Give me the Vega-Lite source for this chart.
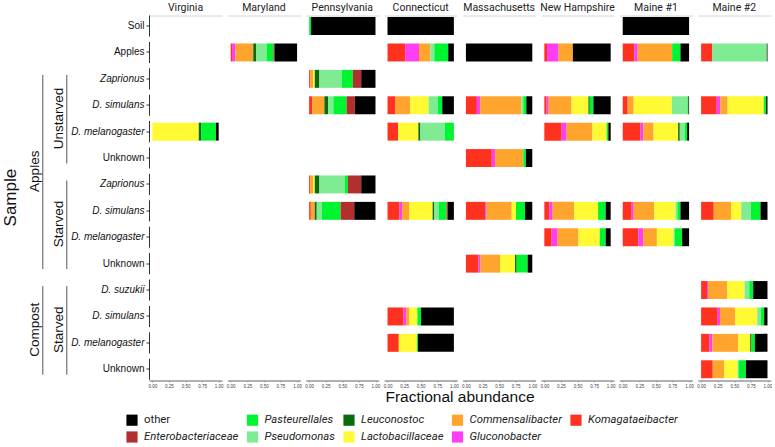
{
  "$schema": "https://vega.github.io/schema/vega-lite/v6.json",
  "padding": {"left": 0, "right": 0, "top": 2.5, "bottom": 0},
  "config": {
    "view": {"stroke": null},
    "font": "Liberation Sans",
    "header": {"labelFont": "Roboto", "labelFontSize": 10.5, "labelColor": "#222", "labelPadding": 2}
  },
  "datasets": {
    "groups": [
      {"label": "Sample", "level": 0, "start": 0, "end": 14, "panel": "\u00a0"},
      {"label": "Apples", "level": 1, "start": 2, "end": 10, "panel": "\u00a0"},
      {"label": "Compost", "level": 1, "start": 10, "end": 14, "panel": "\u00a0"},
      {"label": "Unstarved", "level": 2, "start": 2, "end": 6, "panel": "\u00a0"},
      {"label": "Starved", "level": 2, "start": 6, "end": 10, "panel": "\u00a0"},
      {"label": "Starved", "level": 2, "start": 10, "end": 14, "panel": "\u00a0"}
    ],
    "bars": [
      {"location": "Virginia", "sample": "Soil"},
      {"location": "Virginia", "sample": "Apples"},
      {"location": "Virginia", "sample": "U: Zaprionus"},
      {"location": "Virginia", "sample": "U: D. simulans"},
      {"location": "Virginia", "sample": "U: D. melanogaster"},
      {"location": "Virginia", "sample": "U: Unknown"},
      {"location": "Virginia", "sample": "S: Zaprionus"},
      {"location": "Virginia", "sample": "S: D. simulans"},
      {"location": "Virginia", "sample": "S: D. melanogaster"},
      {"location": "Virginia", "sample": "S: Unknown"},
      {"location": "Virginia", "sample": "C: D. suzukii"},
      {"location": "Virginia", "sample": "C: D. simulans"},
      {"location": "Virginia", "sample": "C: D. melanogaster"},
      {"location": "Virginia", "sample": "C: Unknown"},

      {"location": "Pennsylvania", "sample": "Soil", "taxon": "Pasteurellales", "value": 0.03},
      {"location": "Pennsylvania", "sample": "Soil", "taxon": "other", "value": 0.97},
      {"location": "Connecticut", "sample": "Soil", "taxon": "other", "value": 1.0},
      {"location": "Maine #1", "sample": "Soil", "taxon": "other", "value": 1.0},

      {"location": "Maryland", "sample": "Apples", "taxon": "Komagataeibacter", "value": 0.02},
      {"location": "Maryland", "sample": "Apples", "taxon": "Gluconobacter", "value": 0.05},
      {"location": "Maryland", "sample": "Apples", "taxon": "Commensalibacter", "value": 0.27},
      {"location": "Maryland", "sample": "Apples", "taxon": "Leuconostoc", "value": 0.045},
      {"location": "Maryland", "sample": "Apples", "taxon": "Pseudomonas", "value": 0.155},
      {"location": "Maryland", "sample": "Apples", "taxon": "Pasteurellales", "value": 0.105},
      {"location": "Maryland", "sample": "Apples", "taxon": "Enterobacteriaceae", "value": 0.015},
      {"location": "Maryland", "sample": "Apples", "taxon": "other", "value": 0.34},
      {"location": "Connecticut", "sample": "Apples", "taxon": "Komagataeibacter", "value": 0.27},
      {"location": "Connecticut", "sample": "Apples", "taxon": "Gluconobacter", "value": 0.205},
      {"location": "Connecticut", "sample": "Apples", "taxon": "Commensalibacter", "value": 0.17},
      {"location": "Connecticut", "sample": "Apples", "taxon": "Pseudomonas", "value": 0.06},
      {"location": "Connecticut", "sample": "Apples", "taxon": "Pasteurellales", "value": 0.21},
      {"location": "Connecticut", "sample": "Apples", "taxon": "other", "value": 0.085},
      {"location": "Massachusetts", "sample": "Apples", "taxon": "other", "value": 1.0},
      {"location": "New Hampshire", "sample": "Apples", "taxon": "Komagataeibacter", "value": 0.04},
      {"location": "New Hampshire", "sample": "Apples", "taxon": "Gluconobacter", "value": 0.175},
      {"location": "New Hampshire", "sample": "Apples", "taxon": "Commensalibacter", "value": 0.215},
      {"location": "New Hampshire", "sample": "Apples", "taxon": "other", "value": 0.57},
      {"location": "Maine #1", "sample": "Apples", "taxon": "Komagataeibacter", "value": 0.175},
      {"location": "Maine #1", "sample": "Apples", "taxon": "Gluconobacter", "value": 0.05},
      {"location": "Maine #1", "sample": "Apples", "taxon": "Commensalibacter", "value": 0.52},
      {"location": "Maine #1", "sample": "Apples", "taxon": "Pasteurellales", "value": 0.125},
      {"location": "Maine #1", "sample": "Apples", "taxon": "other", "value": 0.13},
      {"location": "Maine #2", "sample": "Apples", "taxon": "Komagataeibacter", "value": 0.17},
      {"location": "Maine #2", "sample": "Apples", "taxon": "Pseudomonas", "value": 0.82},
      {"location": "Maine #2", "sample": "Apples", "taxon": "other", "value": 0.01},

      {"location": "Pennsylvania", "sample": "U: Zaprionus", "taxon": "Komagataeibacter", "value": 0.02},
      {"location": "Pennsylvania", "sample": "U: Zaprionus", "taxon": "Commensalibacter", "value": 0.04},
      {"location": "Pennsylvania", "sample": "U: Zaprionus", "taxon": "Lactobacillaceae", "value": 0.025},
      {"location": "Pennsylvania", "sample": "U: Zaprionus", "taxon": "Leuconostoc", "value": 0.07},
      {"location": "Pennsylvania", "sample": "U: Zaprionus", "taxon": "Pseudomonas", "value": 0.335},
      {"location": "Pennsylvania", "sample": "U: Zaprionus", "taxon": "Pasteurellales", "value": 0.17},
      {"location": "Pennsylvania", "sample": "U: Zaprionus", "taxon": "Enterobacteriaceae", "value": 0.125},
      {"location": "Pennsylvania", "sample": "U: Zaprionus", "taxon": "other", "value": 0.215},

      {"location": "Pennsylvania", "sample": "U: D. simulans", "taxon": "Komagataeibacter", "value": 0.05},
      {"location": "Pennsylvania", "sample": "U: D. simulans", "taxon": "Commensalibacter", "value": 0.18},
      {"location": "Pennsylvania", "sample": "U: D. simulans", "taxon": "Leuconostoc", "value": 0.055},
      {"location": "Pennsylvania", "sample": "U: D. simulans", "taxon": "Pseudomonas", "value": 0.08},
      {"location": "Pennsylvania", "sample": "U: D. simulans", "taxon": "Pasteurellales", "value": 0.2},
      {"location": "Pennsylvania", "sample": "U: D. simulans", "taxon": "Enterobacteriaceae", "value": 0.125},
      {"location": "Pennsylvania", "sample": "U: D. simulans", "taxon": "other", "value": 0.31},
      {"location": "Connecticut", "sample": "U: D. simulans", "taxon": "Komagataeibacter", "value": 0.12},
      {"location": "Connecticut", "sample": "U: D. simulans", "taxon": "Commensalibacter", "value": 0.225},
      {"location": "Connecticut", "sample": "U: D. simulans", "taxon": "Lactobacillaceae", "value": 0.275},
      {"location": "Connecticut", "sample": "U: D. simulans", "taxon": "Pseudomonas", "value": 0.135},
      {"location": "Connecticut", "sample": "U: D. simulans", "taxon": "Pasteurellales", "value": 0.07},
      {"location": "Connecticut", "sample": "U: D. simulans", "taxon": "other", "value": 0.175},
      {"location": "Massachusetts", "sample": "U: D. simulans", "taxon": "Komagataeibacter", "value": 0.165},
      {"location": "Massachusetts", "sample": "U: D. simulans", "taxon": "Gluconobacter", "value": 0.05},
      {"location": "Massachusetts", "sample": "U: D. simulans", "taxon": "Commensalibacter", "value": 0.62},
      {"location": "Massachusetts", "sample": "U: D. simulans", "taxon": "Pseudomonas", "value": 0.03},
      {"location": "Massachusetts", "sample": "U: D. simulans", "taxon": "Pasteurellales", "value": 0.045},
      {"location": "Massachusetts", "sample": "U: D. simulans", "taxon": "other", "value": 0.09},
      {"location": "New Hampshire", "sample": "U: D. simulans", "taxon": "Komagataeibacter", "value": 0.035},
      {"location": "New Hampshire", "sample": "U: D. simulans", "taxon": "Gluconobacter", "value": 0.03},
      {"location": "New Hampshire", "sample": "U: D. simulans", "taxon": "Commensalibacter", "value": 0.345},
      {"location": "New Hampshire", "sample": "U: D. simulans", "taxon": "Lactobacillaceae", "value": 0.255},
      {"location": "New Hampshire", "sample": "U: D. simulans", "taxon": "Leuconostoc", "value": 0.02},
      {"location": "New Hampshire", "sample": "U: D. simulans", "taxon": "Pasteurellales", "value": 0.055},
      {"location": "New Hampshire", "sample": "U: D. simulans", "taxon": "other", "value": 0.26},
      {"location": "Maine #1", "sample": "U: D. simulans", "taxon": "Komagataeibacter", "value": 0.075},
      {"location": "Maine #1", "sample": "U: D. simulans", "taxon": "Commensalibacter", "value": 0.09},
      {"location": "Maine #1", "sample": "U: D. simulans", "taxon": "Lactobacillaceae", "value": 0.575},
      {"location": "Maine #1", "sample": "U: D. simulans", "taxon": "Pseudomonas", "value": 0.235},
      {"location": "Maine #1", "sample": "U: D. simulans", "taxon": "Pasteurellales", "value": 0.015},
      {"location": "Maine #1", "sample": "U: D. simulans", "taxon": "other", "value": 0.01},
      {"location": "Maine #2", "sample": "U: D. simulans", "taxon": "Komagataeibacter", "value": 0.235},
      {"location": "Maine #2", "sample": "U: D. simulans", "taxon": "Gluconobacter", "value": 0.055},
      {"location": "Maine #2", "sample": "U: D. simulans", "taxon": "Commensalibacter", "value": 0.11},
      {"location": "Maine #2", "sample": "U: D. simulans", "taxon": "Lactobacillaceae", "value": 0.545},
      {"location": "Maine #2", "sample": "U: D. simulans", "taxon": "Pasteurellales", "value": 0.035},
      {"location": "Maine #2", "sample": "U: D. simulans", "taxon": "other", "value": 0.02},

      {"location": "Virginia", "sample": "U: D. melanogaster", "taxon": "Lactobacillaceae", "value": 0.7},
      {"location": "Virginia", "sample": "U: D. melanogaster", "taxon": "Leuconostoc", "value": 0.035},
      {"location": "Virginia", "sample": "U: D. melanogaster", "taxon": "Pasteurellales", "value": 0.225},
      {"location": "Virginia", "sample": "U: D. melanogaster", "taxon": "other", "value": 0.04},
      {"location": "Connecticut", "sample": "U: D. melanogaster", "taxon": "Komagataeibacter", "value": 0.16},
      {"location": "Connecticut", "sample": "U: D. melanogaster", "taxon": "Lactobacillaceae", "value": 0.305},
      {"location": "Connecticut", "sample": "U: D. melanogaster", "taxon": "Leuconostoc", "value": 0.03},
      {"location": "Connecticut", "sample": "U: D. melanogaster", "taxon": "Pseudomonas", "value": 0.37},
      {"location": "Connecticut", "sample": "U: D. melanogaster", "taxon": "Pasteurellales", "value": 0.135},
      {"location": "New Hampshire", "sample": "U: D. melanogaster", "taxon": "Komagataeibacter", "value": 0.26},
      {"location": "New Hampshire", "sample": "U: D. melanogaster", "taxon": "Gluconobacter", "value": 0.075},
      {"location": "New Hampshire", "sample": "U: D. melanogaster", "taxon": "Commensalibacter", "value": 0.39},
      {"location": "New Hampshire", "sample": "U: D. melanogaster", "taxon": "Lactobacillaceae", "value": 0.215},
      {"location": "New Hampshire", "sample": "U: D. melanogaster", "taxon": "Pasteurellales", "value": 0.025},
      {"location": "New Hampshire", "sample": "U: D. melanogaster", "taxon": "other", "value": 0.035},
      {"location": "Maine #1", "sample": "U: D. melanogaster", "taxon": "Komagataeibacter", "value": 0.265},
      {"location": "Maine #1", "sample": "U: D. melanogaster", "taxon": "Gluconobacter", "value": 0.045},
      {"location": "Maine #1", "sample": "U: D. melanogaster", "taxon": "Commensalibacter", "value": 0.155},
      {"location": "Maine #1", "sample": "U: D. melanogaster", "taxon": "Lactobacillaceae", "value": 0.37},
      {"location": "Maine #1", "sample": "U: D. melanogaster", "taxon": "Leuconostoc", "value": 0.025},
      {"location": "Maine #1", "sample": "U: D. melanogaster", "taxon": "Pseudomonas", "value": 0.075},
      {"location": "Maine #1", "sample": "U: D. melanogaster", "taxon": "Pasteurellales", "value": 0.035},
      {"location": "Maine #1", "sample": "U: D. melanogaster", "taxon": "other", "value": 0.03},

      {"location": "Massachusetts", "sample": "U: Unknown", "taxon": "Komagataeibacter", "value": 0.39},
      {"location": "Massachusetts", "sample": "U: Unknown", "taxon": "Gluconobacter", "value": 0.05},
      {"location": "Massachusetts", "sample": "U: Unknown", "taxon": "Commensalibacter", "value": 0.425},
      {"location": "Massachusetts", "sample": "U: Unknown", "taxon": "Pasteurellales", "value": 0.04},
      {"location": "Massachusetts", "sample": "U: Unknown", "taxon": "other", "value": 0.095},

      {"location": "Pennsylvania", "sample": "S: Zaprionus", "taxon": "Komagataeibacter", "value": 0.02},
      {"location": "Pennsylvania", "sample": "S: Zaprionus", "taxon": "Commensalibacter", "value": 0.04},
      {"location": "Pennsylvania", "sample": "S: Zaprionus", "taxon": "Lactobacillaceae", "value": 0.025},
      {"location": "Pennsylvania", "sample": "S: Zaprionus", "taxon": "Leuconostoc", "value": 0.07},
      {"location": "Pennsylvania", "sample": "S: Zaprionus", "taxon": "Pseudomonas", "value": 0.385},
      {"location": "Pennsylvania", "sample": "S: Zaprionus", "taxon": "Pasteurellales", "value": 0.045},
      {"location": "Pennsylvania", "sample": "S: Zaprionus", "taxon": "Enterobacteriaceae", "value": 0.2},
      {"location": "Pennsylvania", "sample": "S: Zaprionus", "taxon": "other", "value": 0.215},

      {"location": "Pennsylvania", "sample": "S: D. simulans", "taxon": "Komagataeibacter", "value": 0.025},
      {"location": "Pennsylvania", "sample": "S: D. simulans", "taxon": "Commensalibacter", "value": 0.06},
      {"location": "Pennsylvania", "sample": "S: D. simulans", "taxon": "Leuconostoc", "value": 0.03},
      {"location": "Pennsylvania", "sample": "S: D. simulans", "taxon": "Pseudomonas", "value": 0.075},
      {"location": "Pennsylvania", "sample": "S: D. simulans", "taxon": "Pasteurellales", "value": 0.285},
      {"location": "Pennsylvania", "sample": "S: D. simulans", "taxon": "Enterobacteriaceae", "value": 0.205},
      {"location": "Pennsylvania", "sample": "S: D. simulans", "taxon": "other", "value": 0.32},
      {"location": "Connecticut", "sample": "S: D. simulans", "taxon": "Komagataeibacter", "value": 0.18},
      {"location": "Connecticut", "sample": "S: D. simulans", "taxon": "Gluconobacter", "value": 0.04},
      {"location": "Connecticut", "sample": "S: D. simulans", "taxon": "Commensalibacter", "value": 0.11},
      {"location": "Connecticut", "sample": "S: D. simulans", "taxon": "Lactobacillaceae", "value": 0.35},
      {"location": "Connecticut", "sample": "S: D. simulans", "taxon": "Leuconostoc", "value": 0.025},
      {"location": "Connecticut", "sample": "S: D. simulans", "taxon": "Pseudomonas", "value": 0.065},
      {"location": "Connecticut", "sample": "S: D. simulans", "taxon": "Pasteurellales", "value": 0.12},
      {"location": "Connecticut", "sample": "S: D. simulans", "taxon": "Enterobacteriaceae", "value": 0.02},
      {"location": "Connecticut", "sample": "S: D. simulans", "taxon": "other", "value": 0.09},
      {"location": "Massachusetts", "sample": "S: D. simulans", "taxon": "Komagataeibacter", "value": 0.29},
      {"location": "Massachusetts", "sample": "S: D. simulans", "taxon": "Gluconobacter", "value": 0.02},
      {"location": "Massachusetts", "sample": "S: D. simulans", "taxon": "Commensalibacter", "value": 0.38},
      {"location": "Massachusetts", "sample": "S: D. simulans", "taxon": "Lactobacillaceae", "value": 0.065},
      {"location": "Massachusetts", "sample": "S: D. simulans", "taxon": "Pasteurellales", "value": 0.135},
      {"location": "Massachusetts", "sample": "S: D. simulans", "taxon": "other", "value": 0.11},
      {"location": "New Hampshire", "sample": "S: D. simulans", "taxon": "Komagataeibacter", "value": 0.075},
      {"location": "New Hampshire", "sample": "S: D. simulans", "taxon": "Gluconobacter", "value": 0.05},
      {"location": "New Hampshire", "sample": "S: D. simulans", "taxon": "Commensalibacter", "value": 0.325},
      {"location": "New Hampshire", "sample": "S: D. simulans", "taxon": "Lactobacillaceae", "value": 0.36},
      {"location": "New Hampshire", "sample": "S: D. simulans", "taxon": "Pasteurellales", "value": 0.115},
      {"location": "New Hampshire", "sample": "S: D. simulans", "taxon": "other", "value": 0.075},
      {"location": "Maine #1", "sample": "S: D. simulans", "taxon": "Komagataeibacter", "value": 0.135},
      {"location": "Maine #1", "sample": "S: D. simulans", "taxon": "Gluconobacter", "value": 0.03},
      {"location": "Maine #1", "sample": "S: D. simulans", "taxon": "Commensalibacter", "value": 0.31},
      {"location": "Maine #1", "sample": "S: D. simulans", "taxon": "Lactobacillaceae", "value": 0.32},
      {"location": "Maine #1", "sample": "S: D. simulans", "taxon": "Pseudomonas", "value": 0.03},
      {"location": "Maine #1", "sample": "S: D. simulans", "taxon": "Pasteurellales", "value": 0.045},
      {"location": "Maine #1", "sample": "S: D. simulans", "taxon": "other", "value": 0.13},
      {"location": "Maine #2", "sample": "S: D. simulans", "taxon": "Komagataeibacter", "value": 0.19},
      {"location": "Maine #2", "sample": "S: D. simulans", "taxon": "Commensalibacter", "value": 0.26},
      {"location": "Maine #2", "sample": "S: D. simulans", "taxon": "Lactobacillaceae", "value": 0.155},
      {"location": "Maine #2", "sample": "S: D. simulans", "taxon": "Pseudomonas", "value": 0.145},
      {"location": "Maine #2", "sample": "S: D. simulans", "taxon": "Pasteurellales", "value": 0.145},
      {"location": "Maine #2", "sample": "S: D. simulans", "taxon": "other", "value": 0.105},

      {"location": "New Hampshire", "sample": "S: D. melanogaster", "taxon": "Komagataeibacter", "value": 0.11},
      {"location": "New Hampshire", "sample": "S: D. melanogaster", "taxon": "Gluconobacter", "value": 0.09},
      {"location": "New Hampshire", "sample": "S: D. melanogaster", "taxon": "Commensalibacter", "value": 0.315},
      {"location": "New Hampshire", "sample": "S: D. melanogaster", "taxon": "Lactobacillaceae", "value": 0.32},
      {"location": "New Hampshire", "sample": "S: D. melanogaster", "taxon": "Pasteurellales", "value": 0.09},
      {"location": "New Hampshire", "sample": "S: D. melanogaster", "taxon": "other", "value": 0.075},
      {"location": "Maine #1", "sample": "S: D. melanogaster", "taxon": "Komagataeibacter", "value": 0.235},
      {"location": "Maine #1", "sample": "S: D. melanogaster", "taxon": "Gluconobacter", "value": 0.075},
      {"location": "Maine #1", "sample": "S: D. melanogaster", "taxon": "Commensalibacter", "value": 0.205},
      {"location": "Maine #1", "sample": "S: D. melanogaster", "taxon": "Lactobacillaceae", "value": 0.25},
      {"location": "Maine #1", "sample": "S: D. melanogaster", "taxon": "Pseudomonas", "value": 0.02},
      {"location": "Maine #1", "sample": "S: D. melanogaster", "taxon": "Pasteurellales", "value": 0.11},
      {"location": "Maine #1", "sample": "S: D. melanogaster", "taxon": "other", "value": 0.105},

      {"location": "Massachusetts", "sample": "S: Unknown", "taxon": "Komagataeibacter", "value": 0.19},
      {"location": "Massachusetts", "sample": "S: Unknown", "taxon": "Gluconobacter", "value": 0.03},
      {"location": "Massachusetts", "sample": "S: Unknown", "taxon": "Commensalibacter", "value": 0.295},
      {"location": "Massachusetts", "sample": "S: Unknown", "taxon": "Lactobacillaceae", "value": 0.225},
      {"location": "Massachusetts", "sample": "S: Unknown", "taxon": "Leuconostoc", "value": 0.025},
      {"location": "Massachusetts", "sample": "S: Unknown", "taxon": "Pasteurellales", "value": 0.165},
      {"location": "Massachusetts", "sample": "S: Unknown", "taxon": "other", "value": 0.07},

      {"location": "Maine #2", "sample": "C: D. suzukii", "taxon": "Komagataeibacter", "value": 0.09},
      {"location": "Maine #2", "sample": "C: D. suzukii", "taxon": "Gluconobacter", "value": 0.015},
      {"location": "Maine #2", "sample": "C: D. suzukii", "taxon": "Commensalibacter", "value": 0.29},
      {"location": "Maine #2", "sample": "C: D. suzukii", "taxon": "Lactobacillaceae", "value": 0.26},
      {"location": "Maine #2", "sample": "C: D. suzukii", "taxon": "Pseudomonas", "value": 0.07},
      {"location": "Maine #2", "sample": "C: D. suzukii", "taxon": "Pasteurellales", "value": 0.06},
      {"location": "Maine #2", "sample": "C: D. suzukii", "taxon": "other", "value": 0.215},

      {"location": "Connecticut", "sample": "C: D. simulans", "taxon": "Komagataeibacter", "value": 0.24},
      {"location": "Connecticut", "sample": "C: D. simulans", "taxon": "Gluconobacter", "value": 0.04},
      {"location": "Connecticut", "sample": "C: D. simulans", "taxon": "Commensalibacter", "value": 0.05},
      {"location": "Connecticut", "sample": "C: D. simulans", "taxon": "Lactobacillaceae", "value": 0.12},
      {"location": "Connecticut", "sample": "C: D. simulans", "taxon": "Pasteurellales", "value": 0.055},
      {"location": "Connecticut", "sample": "C: D. simulans", "taxon": "other", "value": 0.495},
      {"location": "Maine #2", "sample": "C: D. simulans", "taxon": "Komagataeibacter", "value": 0.25},
      {"location": "Maine #2", "sample": "C: D. simulans", "taxon": "Gluconobacter", "value": 0.035},
      {"location": "Maine #2", "sample": "C: D. simulans", "taxon": "Commensalibacter", "value": 0.23},
      {"location": "Maine #2", "sample": "C: D. simulans", "taxon": "Lactobacillaceae", "value": 0.33},
      {"location": "Maine #2", "sample": "C: D. simulans", "taxon": "Pseudomonas", "value": 0.055},
      {"location": "Maine #2", "sample": "C: D. simulans", "taxon": "Pasteurellales", "value": 0.05},
      {"location": "Maine #2", "sample": "C: D. simulans", "taxon": "other", "value": 0.05},

      {"location": "Connecticut", "sample": "C: D. melanogaster", "taxon": "Komagataeibacter", "value": 0.17},
      {"location": "Connecticut", "sample": "C: D. melanogaster", "taxon": "Lactobacillaceae", "value": 0.275},
      {"location": "Connecticut", "sample": "C: D. melanogaster", "taxon": "Pasteurellales", "value": 0.015},
      {"location": "Connecticut", "sample": "C: D. melanogaster", "taxon": "other", "value": 0.54},
      {"location": "Maine #2", "sample": "C: D. melanogaster", "taxon": "Komagataeibacter", "value": 0.125},
      {"location": "Maine #2", "sample": "C: D. melanogaster", "taxon": "Gluconobacter", "value": 0.045},
      {"location": "Maine #2", "sample": "C: D. melanogaster", "taxon": "Commensalibacter", "value": 0.39},
      {"location": "Maine #2", "sample": "C: D. melanogaster", "taxon": "Lactobacillaceae", "value": 0.18},
      {"location": "Maine #2", "sample": "C: D. melanogaster", "taxon": "Leuconostoc", "value": 0.02},
      {"location": "Maine #2", "sample": "C: D. melanogaster", "taxon": "Pasteurellales", "value": 0.05},
      {"location": "Maine #2", "sample": "C: D. melanogaster", "taxon": "other", "value": 0.19},

      {"location": "Maine #2", "sample": "C: Unknown", "taxon": "Komagataeibacter", "value": 0.175},
      {"location": "Maine #2", "sample": "C: Unknown", "taxon": "Commensalibacter", "value": 0.175},
      {"location": "Maine #2", "sample": "C: Unknown", "taxon": "Lactobacillaceae", "value": 0.2},
      {"location": "Maine #2", "sample": "C: Unknown", "taxon": "Pseudomonas", "value": 0.015},
      {"location": "Maine #2", "sample": "C: Unknown", "taxon": "Pasteurellales", "value": 0.11},
      {"location": "Maine #2", "sample": "C: Unknown", "taxon": "other", "value": 0.325}
    ]
  },
  "spacing": 0,
  "resolve": {"scale": {"x": "independent", "y": "independent"}},
  "hconcat": [
    {
      "data": {"name": "groups"},
      "transform": [{"calculate": "(datum.start + datum.end) / 2 - 0.1", "as": "mid"}],
      "facet": {"column": {"field": "panel", "title": null, "header": {"labelOrient": "top"}}},
      "spec": {
        "width": 70,
        "height": 364.3,
        "layer": [
          {
            "transform": [{"filter": "datum.level > 0"}],
            "mark": {"type": "rule", "color": "#555", "strokeWidth": 1, "xOffset": 8, "yOffset": 6.6, "y2Offset": -10.4},
            "encoding": {
              "x": {"field": "level", "type": "quantitative", "scale": {"domain": [-0.45, 2.4667], "nice": false, "zero": false}, "axis": null},
              "y": {"field": "start", "type": "quantitative", "scale": {"domain": [0, 13.8], "reverse": true, "nice": false, "zero": false}, "axis": null},
              "y2": {"field": "end"}
            }
          },
          {
            "transform": [{"filter": "datum.level > 0"}],
            "mark": {"type": "text", "angle": 270, "fontSize": 13.5, "font": "Liberation Sans", "color": "#111", "align": "center", "baseline": "middle"},
            "encoding": {
              "x": {"field": "level", "type": "quantitative"},
              "y": {"field": "mid", "type": "quantitative"},
              "text": {"field": "label"}
            }
          },
          {
            "transform": [{"filter": "datum.level == 0"}],
            "mark": {"type": "text", "angle": 270, "fontSize": 17, "font": "Liberation Sans", "color": "#111", "align": "center", "baseline": "middle"},
            "encoding": {
              "x": {"field": "level", "type": "quantitative"},
              "y": {"field": "mid", "type": "quantitative"},
              "text": {"field": "label"}
            }
          }
        ]
      }
    },
    {
      "data": {"name": "bars"},
      "transform": [{"calculate": "indexof(['Komagataeibacter','Gluconobacter','Commensalibacter','Lactobacillaceae','Leuconostoc','Pseudomonas','Pasteurellales','Enterobacteriaceae','other'], datum.taxon)", "as": "rank"}],
      "facet": {
        "column": {
          "field": "location",
          "type": "nominal",
          "sort": ["Virginia", "Maryland", "Pennsylvania", "Connecticut", "Massachusetts", "New Hampshire", "Maine #1", "Maine #2"],
          "title": "Fractional abundance",
          "header": {"labelOrient": "top", "titleOrient": "bottom", "titleFont": "Liberation Sans", "titleFontSize": 15.5, "titleFontWeight": "normal", "titleColor": "#111", "titlePadding": -8}
        }
      },
      "spacing": 5.4,
      "spec": {
        "width": 73,
        "height": 364.3,
        "resolve": {"axis": {"x": "independent"}},
        "layer": [
          {
            "transform": [{"filter": "isValid(datum.taxon)"}],
            "mark": {"type": "bar", "height": {"band": 0.85}},
            "encoding": {
              "y": {
                "field": "sample", "type": "nominal",
                "scale": {"domain": ["Soil", "Apples", "U: Zaprionus", "U: D. simulans", "U: D. melanogaster", "U: Unknown", "S: Zaprionus", "S: D. simulans", "S: D. melanogaster", "S: Unknown", "C: D. suzukii", "C: D. simulans", "C: D. melanogaster", "C: Unknown"], "paddingInner": 0.2, "paddingOuter": 0},
                "axis": {
                  "title": null, "domain": false, "ticks": true, "tickSize": 3, "tickColor": "#333",
                  "labelFontSize": 10, "labelColor": "#111", "labelPadding": 2, "labelFont": "Liberation Sans",
                  "labelExpr": "indexof(datum.value, ': ') > 0 ? slice(datum.value, 3) : datum.value",
                  "labelFontStyle": {"condition": {"test": "indexof(datum.value, 'D.') >= 0 || indexof(datum.value, 'Zaprionus') >= 0", "value": "italic"}, "value": "normal"}
                }
              },
              "x": {
                "field": "value", "type": "quantitative", "stack": "zero",
                "scale": {"domain": [-0.05, 1.05], "nice": false, "zero": false},
                "axis": {"title": null, "orient": "bottom", "values": [0, 0.25, 0.5, 0.75, 1], "format": ".2f", "labelFontSize": 4.5, "labelColor": "#444", "labelFlush": false, "labelOverlap": false, "labelPadding": 1, "tickSize": 1.5, "tickColor": "#999", "domainColor": "#999", "domainWidth": 1.5, "grid": false}
              },
              "color": {
                "field": "taxon", "type": "nominal",
                "scale": {
                  "domain": ["other", "Pasteurellales", "Leuconostoc", "Commensalibacter", "Komagataeibacter", "Enterobacteriaceae", "Pseudomonas", "Lactobacillaceae", "Gluconobacter"],
                  "range": ["#000000", "#00F531", "#0B6B0B", "#FFA52E", "#FF311F", "#B22F2F", "#7FEB92", "#FFFA33", "#FF3DF5"]
                },
                "legend": {
                  "orient": "none", "legendX": 126, "legendY": 398.5, "direction": "horizontal", "columns": 5, "title": null,
                  "symbolType": "square", "symbolSize": 125, "symbolStrokeWidth": 0, "symbolOpacity": 1,
                  "labelFontSize": 11.3, "labelFont": "Roboto", "labelColor": "#222", "columnPadding": 7.5, "rowPadding": 5, "labelOffset": 6, "labelLimit": 200,
                  "encode": {"labels": {"update": {"fontStyle": {"signal": "datum.label === 'other' ? 'normal' : 'italic'"}}}}
                }
              },
              "order": {"field": "rank", "type": "quantitative"}
            }
          },
          {
            "transform": [{"filter": "!isValid(datum.taxon)"}],
            "mark": {"type": "bar", "color": "#222"},
            "encoding": {
              "y": {"field": "sample", "type": "nominal"},
              "x": {"datum": -0.05, "type": "quantitative", "axis": {"orient": "top", "labels": false, "ticks": false, "title": null, "domainColor": "#d4d4d4", "domainWidth": 1, "grid": false}},
              "x2": {"datum": -0.036}
            }
          }
        ]
      }
    }
  ]
}
